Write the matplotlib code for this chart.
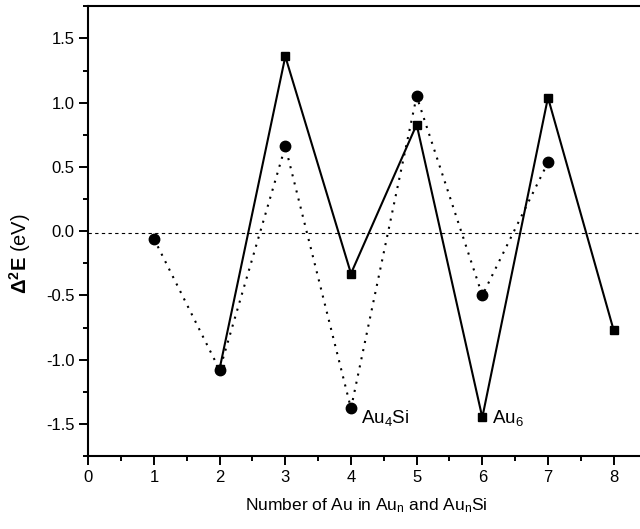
import numpy as np
import matplotlib
matplotlib.use('Agg')
from matplotlib import pyplot as plt
from matplotlib.ticker import MultipleLocator

plt.rcParams['font.family'] = ['Liberation Sans', 'DejaVu Sans']
plt.rcParams['mathtext.fontset'] = 'custom'
plt.rcParams['mathtext.rm'] = 'Liberation Sans'
plt.rcParams['mathtext.it'] = 'Liberation Sans:italic'
plt.rcParams['mathtext.bf'] = 'Liberation Sans:bold'

# Au_n clusters (squares, solid)
n_au = [2, 3, 4, 5, 6, 7, 8]
d2e_au = [-1.07, 1.36, -0.33, 0.83, -1.45, 1.04, -0.77]

# Au_nSi clusters (circles, dotted)
n_ausi = [1, 2, 3, 4, 5, 6, 7]
d2e_ausi = [-0.06, -1.08, 0.66, -1.38, 1.05, -0.50, 0.535]

ref_level = -0.015

fig = plt.figure(figsize=(6.4, 5.29), dpi=100)
ax = fig.add_axes([0.138, 0.138, 0.868, 0.85])

ax.axhline(ref_level, color='black', lw=0.8, ls=(0, (3, 3)), zorder=1)
ax.plot(n_ausi, d2e_ausi, color='black', lw=1.5, ls=(0, (1, 3)),
        marker='o', ms=7.5, zorder=2)
ax.plot(n_au, d2e_au, color='black', lw=1.5, ls='-',
        marker='s', ms=6, zorder=3)

ax.text(4.15, -1.49, r'Au$_\mathrm{4}$Si', fontsize=13.5, ha='left', va='baseline')
ax.text(6.15, -1.49, r'Au$_\mathrm{6}$', fontsize=13.5, ha='left', va='baseline')

ax.set_xlim(0, 8.46)
ax.set_ylim(-1.75, 1.75)
ax.xaxis.set_major_locator(MultipleLocator(1))
ax.xaxis.set_minor_locator(MultipleLocator(0.5))
ax.yaxis.set_major_locator(MultipleLocator(0.5))
ax.yaxis.set_minor_locator(MultipleLocator(0.25))
ax.set_yticks(np.arange(-1.5, 1.51, 0.5))
ax.set_yticklabels(['%.1f' % v for v in np.arange(-1.5, 1.51, 0.5)])

ax.tick_params(which='major', direction='out', length=6.5, width=1.4, labelsize=12)
ax.tick_params(which='minor', direction='out', length=3.5, width=1.4)
ax.spines['right'].set_visible(False)
for s in ['left', 'bottom', 'top']:
    ax.spines[s].set_linewidth(1.5)

ax.set_xlabel(r'Number of Au in Au$_\mathrm{n}$ and Au$_\mathrm{n}$Si', fontsize=12.5, labelpad=8)
ax.set_ylabel(r'$\mathbf{\Delta^2E}$ (eV)', fontsize=14.5)
ax.yaxis.set_label_coords(-0.10, 0.45)

fig.savefig('out.png', dpi=100)
